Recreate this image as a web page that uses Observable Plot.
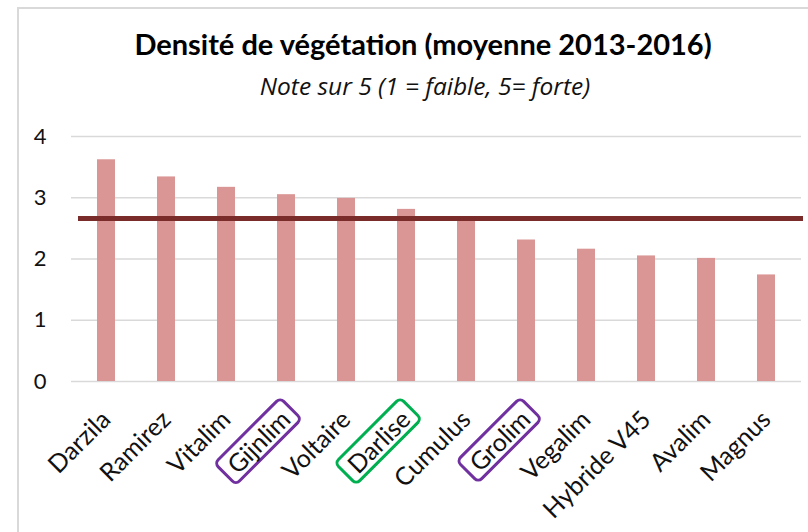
<!DOCTYPE html>
<html>
<head>
<meta charset="utf-8">
<script src="https://cdn.jsdelivr.net/npm/d3@7"></script>
<script src="https://cdn.jsdelivr.net/npm/@observablehq/plot@0.6"></script>
<style>
  html, body { margin: 0; padding: 0; background: #fff; }
  #wrap { position: relative; width: 808px; height: 532px; overflow: hidden; background: #fff; font-family: Lato, "Open Sans", sans-serif; }
  #frame { position: absolute; left: 17px; top: 7px; width: 900px; height: 600px; border: 2px solid #d9d9d9; box-sizing: border-box; }
  #title { position: absolute; left: 0; width: 846px; top: 27px; text-align: center; font-weight: bold; font-size: 29px; color: #000; line-height: 34px; white-space: nowrap; }
  #subtitle { position: absolute; left: 0; width: 850px; top: 69px; text-align: center; font-family: "Open Sans", Lato, sans-serif; font-style: italic; font-size: 24.5px; color: #111; line-height: 33px; white-space: nowrap; }
  #chart { position: absolute; left: 0; top: 0; }
</style>
</head>
<body>
<div id="wrap">
  <div id="frame"></div>
  <div id="chart"></div>
  <div id="title">Densité de végétation (moyenne 2013-2016)</div>
  <div id="subtitle">Note sur 5 (1 = faible, 5= forte)</div>
</div>
<script>
const categories = ["Darzila", "Ramirez", "Vitalim", "Gijnlim", "Voltaire", "Darlise", "Cumulus", "Grolim", "Vegalim", "Hybride V45", "Avalim", "Magnus"];
const values = [3.62, 3.34, 3.17, 3.05, 2.99, 2.81, 2.66, 2.31, 2.16, 2.05, 2.01, 1.74];
const moyenne = 2.66;
const yTicks = [0, 1, 2, 3, 4];
const highlightNames = ["Gijnlim", "Darlise", "Grolim"];
const highlightColors = ["#7030a0", "#00b050", "#7030a0"];

const data = categories.map((name, i) => ({name, value: values[i]}));

const chart = Plot.plot({
  width: 808,
  height: 532,
  marginLeft: 71,
  marginRight: 7,
  marginTop: 136,
  marginBottom: 151,
  style: {fontFamily: "Lato, 'Open Sans', sans-serif", color: "#111", background: "transparent"},
  x: {domain: categories, paddingInner: 0.7, paddingOuter: 0.35, label: null},
  y: {domain: [0, 4], ticks: yTicks, label: null},
  marks: [
    Plot.ruleY(yTicks, {stroke: "#d9d9d9", strokeWidth: 1.6}),
    Plot.barY(data, {x: "name", y: "value", fill: "#d99694"}),
    Plot.ruleY([moyenne], {stroke: "#7a2c2a", strokeWidth: 5, insetLeft: 7, insetRight: -2}),
    Plot.axisY({ticks: yTicks, tickSize: 0, tickPadding: 25, fontSize: 22, label: null, tickFormat: d => String(d)}),
    Plot.axisX({tickSize: 0, tickPadding: 34, tickRotate: -45, fontSize: 25, label: null})
  ]
});

document.getElementById("chart").appendChild(chart);

// Rounded boxes around highlighted tick labels
const svgNS = "http://www.w3.org/2000/svg";
chart.querySelectorAll('g[aria-label="x-axis tick label"] text').forEach(t => {
  const idx = highlightNames.indexOf(t.textContent.trim());
  if (idx < 0) return;
  const bb = t.getBBox();
  const padX = 8, padY = 0;
  const r = document.createElementNS(svgNS, "rect");
  r.setAttribute("x", bb.x - padX);
  r.setAttribute("y", bb.y - padY);
  r.setAttribute("width", bb.width + 2 * padX);
  r.setAttribute("height", bb.height + 2 * padY);
  r.setAttribute("rx", 5);
  r.setAttribute("fill", "none");
  r.setAttribute("stroke", highlightColors[idx]);
  r.setAttribute("stroke-width", 3);
  const tr = t.getAttribute("transform");
  if (tr) r.setAttribute("transform", tr);
  t.parentNode.insertBefore(r, t);
});
</script>
</body>
</html>
